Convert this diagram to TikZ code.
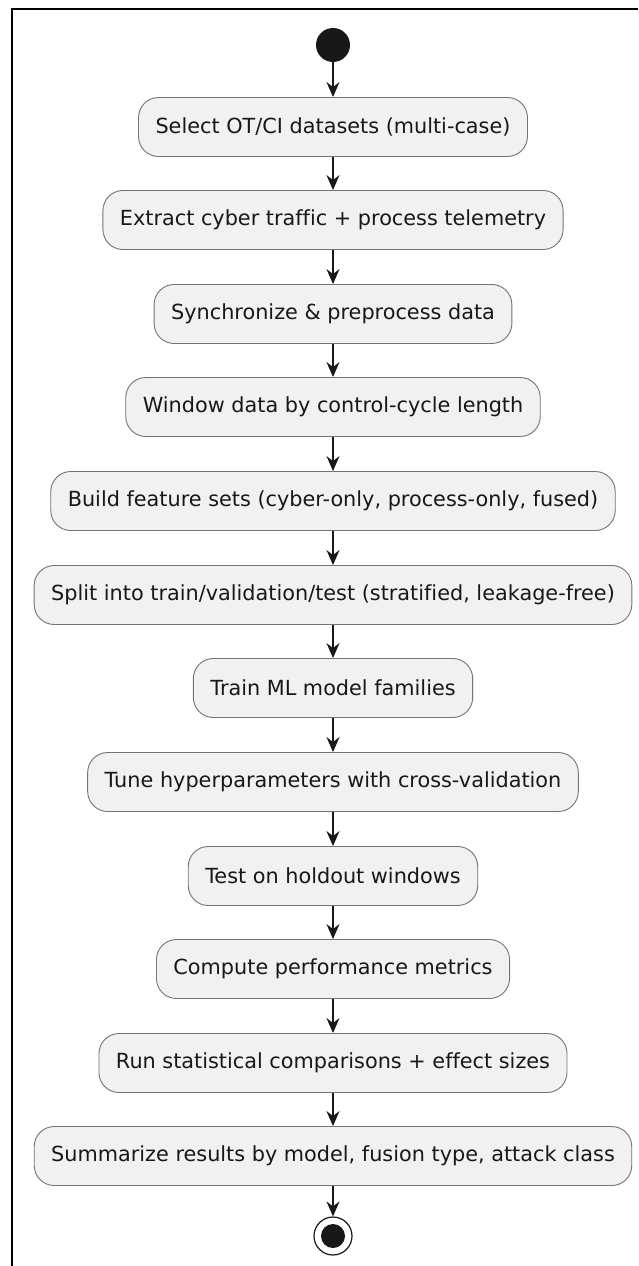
\documentclass[tikz,border=0pt]{standalone}
\usepackage{fontspec}
\setmainfont{DejaVu Sans}[Ligatures=NoCommon]
\usepackage{xcolor}
\usepackage{tikz}
\usetikzlibrary{arrows.meta,positioning}

\definecolor{actfill}{HTML}{F1F1F1}
\definecolor{actline}{HTML}{181818}

\tikzset{
  action/.style={draw=black!55, line width=0.9pt, fill=actfill, rounded corners=20pt,
    minimum height=59pt, inner xsep=17pt, font=\fontsize{20.8}{24}\selectfont, text=actline},
  flow/.style={-{Stealth[length=15pt, width=13pt, inset=5pt]}, line width=1.1pt, draw=actline}
}

\begin{document}
\begin{tikzpicture}[x=1pt, y=-1pt]
    \useasboundingbox (0,0) rectangle (638,1266);

    % Frame (cropped)
    \draw[line width=2pt, black] (638,9) -- (12,9) -- (12,1266);

    % Start node
    \node[circle, fill=actline, minimum size=34pt, inner sep=0pt] (start) at (333,45) {};

    % Actions
    \node[action] (select) at (333,127) {Select OT/CI datasets (multi-case)};
    \node[action] (extract) at (333,220) {Extract cyber traffic + process telemetry};
    \node[action] (sync) at (333,314) {Synchronize \& preprocess data};
    \node[action] (window) at (333,407) {Window data by control-cycle length};
    \node[action] (features) at (333,501) {Build feature sets (cyber-only, process-only, fused)};
    \node[action] (split) at (333,595) {Split into train/validation/test (stratified, leakage-free)};
    \node[action] (train) at (333,688) {Train ML model families};
    \node[action] (tune) at (333,782) {Tune hyperparameters with cross-validation};
    \node[action] (test) at (333,876) {Test on holdout windows};
    \node[action] (metrics) at (333,969) {Compute performance metrics};
    \node[action] (stats) at (333,1063) {Run statistical comparisons + effect sizes};
    \node[action] (summary) at (333,1156) {Summarize results by model, fusion type, attack class};

    % Stop node
    \node[circle, draw=actline, line width=1.2pt, fill=white, minimum size=38pt, inner sep=0pt] (stop) at (333,1236) {};
    \node[circle, fill=actline, minimum size=24pt, inner sep=0pt] (stopdot) at (stop) {};

    % Control flow
    \foreach \a/\b in {start/select, select/extract, extract/sync, sync/window,
        window/features, features/split, split/train, train/tune, tune/test,
        test/metrics, metrics/stats, stats/summary, summary/stop}
        \draw[flow] (\a) -- (\b);
\end{tikzpicture}
\end{document}
